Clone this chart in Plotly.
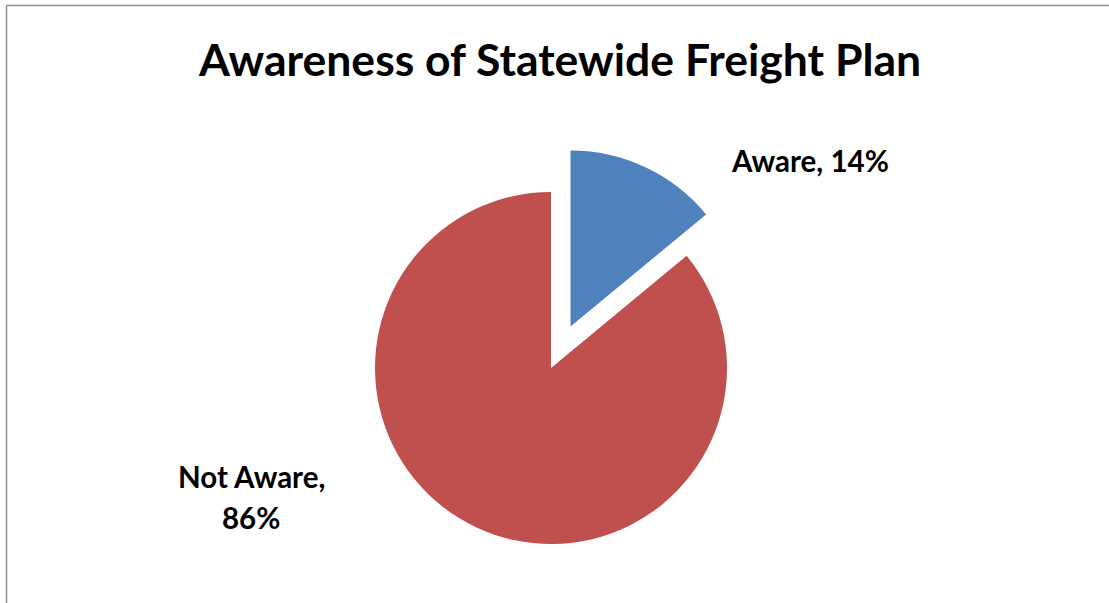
import plotly.graph_objects as go

labels = ["Aware", "Not Aware"]
values = [14, 86]
colors = ["#4F81BD", "#C0504D"]
pulls = [0.26, 0]
title_text = "Awareness of Statewide Freight Plan"

W, H = 1109, 603
cx, cy = 551, 368
r = 176
maxpull = max(pulls)
box = 2 * r * (1 + maxpull)
yc = 1 - cy / H
yh = box / H / 2
xc = cx / W

fig = go.Figure(go.Pie(
    labels=labels, values=values,
    marker=dict(colors=colors, line=dict(width=0)),
    pull=pulls, sort=False, direction="clockwise", rotation=0,
    textinfo="none", hoverinfo="label+percent",
    domain=dict(x=[xc - 0.3, xc + 0.3], y=[yc - yh, yc + yh]),
    showlegend=False,
))

font = "Lato, 'Open Sans', sans-serif"


def ann(text, x, y, size, xanchor="center"):
    fig.add_annotation(text="<b>" + text + "</b>", x=x / W, y=1 - y / H,
                       xref="paper", yref="paper", showarrow=False,
                       xanchor=xanchor, yanchor="middle",
                       font=dict(family=font, size=size, color="#000000"))


ann(title_text, 559.5, 58, 44.5)
ann("%s, %d%%" % (labels[0], values[0]), 729, 160, 29.5, xanchor="left")
ann("%s," % labels[1], 251, 477, 29.5)
ann("%d%%" % values[1], 251, 517, 29.5)

border = dict(color="#8C8C8C", width=1.5)
fig.add_shape(type="line", xref="paper", yref="paper",
              x0=6.5 / W, x1=1.02, y0=1 - 5.5 / H, y1=1 - 5.5 / H, line=border)
fig.add_shape(type="line", xref="paper", yref="paper",
              x0=6.5 / W, x1=6.5 / W, y0=-0.02, y1=1 - 5.5 / H, line=border)

fig.update_layout(width=W, height=H, margin=dict(l=0, r=0, t=0, b=0),
                  paper_bgcolor="#FFFFFF", plot_bgcolor="#FFFFFF")
fig.write_html("out.html", config={"displayModeBar": False},
               post_script="document.documentElement.style.overflow='hidden';"
                           "document.body.style.margin='0';document.body.style.overflow='hidden';")
